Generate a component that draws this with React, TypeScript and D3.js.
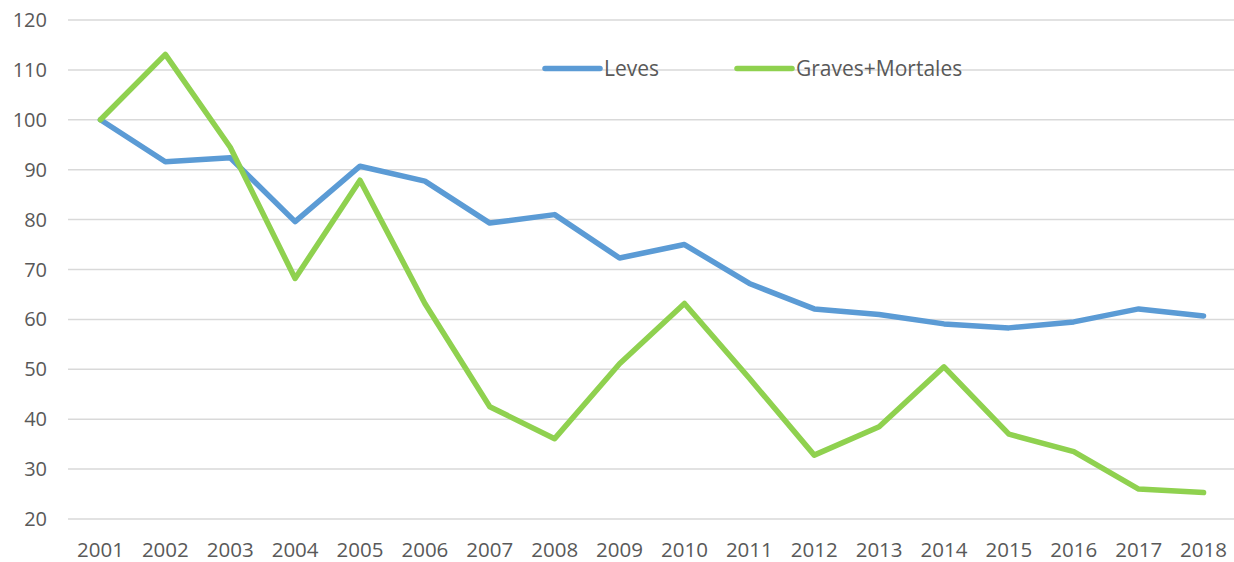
import React from "react";
import * as d3 from "d3";

const years = ["2001","2002","2003","2004","2005","2006","2007","2008","2009","2010","2011","2012","2013","2014","2015","2016","2017","2018"];
const leves = [100, 91.6, 92.4, 79.6, 90.7, 87.7, 79.3, 81.0, 72.3, 75.0, 67.2, 62.1, 61.0, 59.1, 58.3, 59.5, 62.1, 60.7];
const graves = [100, 113.1, 94.5, 68.2, 87.9, 63.2, 42.5, 36.1, 51.1, 63.2, 48.2, 32.8, 38.5, 50.5, 37.0, 33.5, 26.0, 25.3];
const yTicks = [20, 30, 40, 50, 60, 70, 80, 90, 100, 110, 120];
const seriesNames = ["Leves", "Graves+Mortales"];
const seriesColors = ["#5B9BD5", "#8FD14F"];

const W = 1234;
const H = 562;
const FONT = "'Open Sans', 'Liberation Sans', sans-serif";
const TEXT = "#595959";

export default function App() {
  const x = d3.scaleBand<string>().domain(years).range([68, 1236]);
  const y = d3.scaleLinear().domain([20, 120]).range([519, 20]);
  const cx = (yr: string) => (x(yr) as number) + x.bandwidth() / 2;
  const line = d3
    .line<number>()
    .x((_, i) => cx(years[i]))
    .y((d) => y(d));
  const data = [leves, graves];
  const legendX = [545, 737];

  return (
    <svg
      width={W}
      height={H}
      style={{ position: "absolute", left: 0, top: 0, background: "#fff" }}
      fontFamily={FONT}
    >
      <rect x={0} y={0} width={W} height={H} fill="#fff" />
      {yTicks.map((t) => (
        <g key={t}>
          <line x1={68} x2={1234} y1={y(t)} y2={y(t)} stroke="#D9D9D9" strokeWidth={1.5} />
          <text x={47} y={y(t)} dy="0.35em" textAnchor="end" fontSize={20} fill={TEXT}>
            {t}
          </text>
        </g>
      ))}
      {years.map((yr) => (
        <text key={yr} x={cx(yr)} y={557} textAnchor="middle" fontSize={20.5} fill={TEXT}>
          {yr}
        </text>
      ))}
      {data.map((s, i) => (
        <path
          key={i}
          d={line(s) as string}
          fill="none"
          stroke={seriesColors[i]}
          strokeWidth={5.5}
          strokeLinejoin="round"
          strokeLinecap="round"
        />
      ))}
      {seriesNames.map((n, i) => (
        <g key={n}>
          <line
            x1={legendX[i]}
            x2={legendX[i] + 55}
            y1={68.5}
            y2={68.5}
            stroke={seriesColors[i]}
            strokeWidth={5.5}
            strokeLinecap="round"
          />
          <text x={legendX[i] + 59} y={68.5} dy="0.35em" fontSize={21} fill={TEXT}>
            {n}
          </text>
        </g>
      ))}
    </svg>
  );
}
